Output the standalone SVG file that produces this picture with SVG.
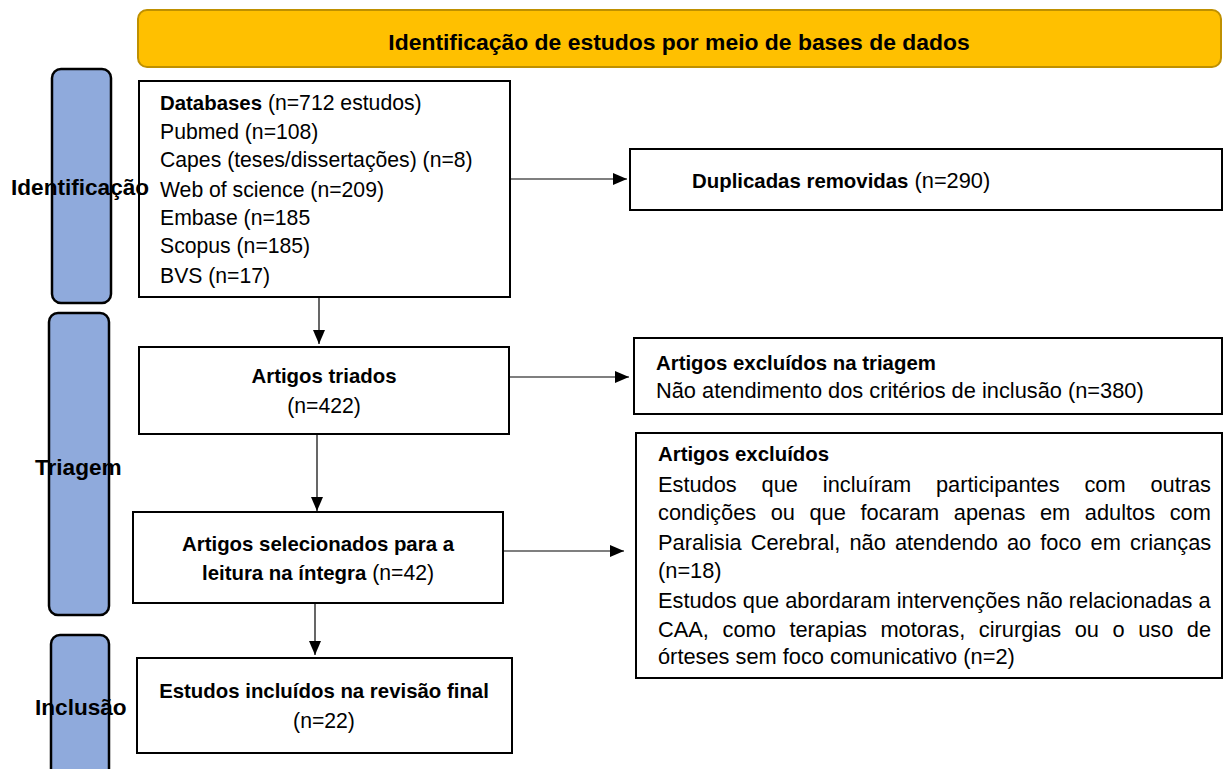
<svg xmlns="http://www.w3.org/2000/svg" width="1224" height="769" viewBox="0 0 1224 769">
<style>
text{font-family:"Liberation Sans",Arial,sans-serif;fill:#000}
.b{font-weight:bold;font-size:20.4px}
.r{font-size:21.2px}
.rr{font-size:21.8px}
.lab{font-weight:bold;font-size:22.6px}
.box{fill:#fff;stroke:#000;stroke-width:2}
.bar{fill:#8FAADC;stroke:#000;stroke-width:2.5}
.con{stroke:#000;stroke-width:1.2;fill:none;marker-end:url(#ah)}
</style>
<defs>
<marker id="ah" viewBox="0 0 14 12" refX="14" refY="6" markerWidth="14" markerHeight="12" markerUnits="userSpaceOnUse" orient="auto">
<path d="M0,0 L14,6 L0,12 z" fill="#000"/>
</marker>
</defs>
<rect width="1224" height="769" fill="#fff"/>

<g id="banner">
<rect x="138" y="10" width="1083" height="57" rx="9" fill="#FFC000" stroke="#BF9000" stroke-width="2"/>
<text x="679" y="50" text-anchor="middle" class="lab" style="font-size:22.9px">Identificação de estudos por meio de bases de dados</text>
</g>

<g id="connectors">
<line class="con" x1="319" y1="297" x2="319" y2="344"/>
<line class="con" x1="317" y1="435" x2="317" y2="511"/>
<line class="con" x1="315" y1="604" x2="315" y2="655"/>
<line class="con" x1="510" y1="179" x2="627" y2="179"/>
<line class="con" x1="510" y1="377" x2="629" y2="377"/>
<line class="con" x1="503" y1="551" x2="624" y2="551"/>
</g>

<g id="databases">
<rect class="box" x="139" y="81" width="371" height="216"/>
<text x="160" y="110"><tspan class="b">Databases</tspan><tspan class="r"> (n=712 estudos)</tspan></text>
<text class="r" x="160" y="139">Pubmed (n=108)</text>
<text class="r" x="160" y="167">Capes (teses/dissertações) (n=8)</text>
<text class="r" x="160" y="197">Web of science (n=209)</text>
<text class="r" x="160" y="225">Embase (n=185</text>
<text class="r" x="160" y="253">Scopus (n=185)</text>
<text class="r" x="160" y="283">BVS (n=17)</text>
</g>

<g id="triados">
<rect class="box" x="139" y="347" width="370" height="87"/>
<text class="b" x="324" y="383" text-anchor="middle">Artigos triados</text>
<text class="r" x="324" y="413" text-anchor="middle">(n=422)</text>
</g>

<g id="selecionados">
<rect class="box" x="133" y="512" width="370" height="91"/>
<text class="b" x="318" y="551" text-anchor="middle">Artigos selecionados para a</text>
<text x="318" y="580" text-anchor="middle"><tspan class="b">leitura na íntegra</tspan><tspan class="r"> (n=42)</tspan></text>
</g>

<g id="incluidos">
<rect class="box" x="137" y="658" width="375" height="95"/>
<text class="b" x="324" y="698" text-anchor="middle">Estudos incluídos na revisão final</text>
<text class="r" x="324" y="728" text-anchor="middle">(n=22)</text>
</g>

<g id="duplicadas">
<rect class="box" x="630" y="149" width="592" height="61"/>
<text x="692" y="188"><tspan class="b">Duplicadas removidas</tspan><tspan class="rr"> (n=290)</tspan></text>
</g>

<g id="excluidos-triagem">
<rect class="box" x="634" y="338" width="588" height="76"/>
<text class="b" x="656" y="370">Artigos excluídos na triagem</text>
<text class="rr" x="656" y="398">Não atendimento dos critérios de inclusão (n=380)</text>
</g>

<g id="excluidos">
<rect class="box" x="636" y="433" width="586" height="245"/>
<text class="b" x="658" y="461">Artigos excluídos</text>
<text class="rr" y="492"><tspan x="658">Estudos</tspan><tspan x="761.6">que</tspan><tspan x="822.8">incluíram</tspan><tspan x="936">participantes</tspan><tspan x="1084.4">com</tspan><tspan x="1150.4">outras</tspan></text>
<text class="rr" y="520"><tspan x="658">condições</tspan><tspan x="770.7">ou</tspan><tspan x="809.5">que</tspan><tspan x="860.5">focaram</tspan><tspan x="953.8">apenas</tspan><tspan x="1039.9">em</tspan><tspan x="1084.8">adultos</tspan><tspan x="1169.7">com</tspan></text>
<text class="rr" y="550"><tspan x="658">Paralisia</tspan><tspan x="750.7">Cerebral,</tspan><tspan x="849.4">não</tspan><tspan x="894.9">atendendo</tspan><tspan x="1007">ao</tspan><tspan x="1040.3">foco</tspan><tspan x="1090.6">em</tspan><tspan x="1130">crianças</tspan></text>
<text class="rr" x="658" y="578">(n=18)</text>
<text class="rr" x="658" y="608">Estudos que abordaram intervenções não relacionadas a</text>
<text class="rr" y="637"><tspan x="658">CAA,</tspan><tspan x="722.5">como</tspan><tspan x="789.4">terapias</tspan><tspan x="880.4">motoras,</tspan><tspan x="978.8">cirurgias</tspan><tspan x="1074.7">ou</tspan><tspan x="1112.5">o</tspan><tspan x="1138.2">uso</tspan><tspan x="1186.8">de</tspan></text>
<text class="rr" x="658" y="664">órteses sem foco comunicativo (n=2)</text>
</g>

<g id="bar-identificacao">
<rect class="bar" x="52" y="69" width="59" height="234" rx="9"/>
<text class="lab" x="11" y="195">Identificação</text>
</g>
<g id="bar-triagem">
<rect class="bar" x="49" y="313" width="60" height="302" rx="9"/>
<text class="lab" x="35" y="475">Triagem</text>
</g>
<g id="bar-inclusao">
<rect class="bar" x="51" y="635" width="58" height="150" rx="9"/>
<text class="lab" x="35" y="715">Inclusão</text>
</g>
</svg>
